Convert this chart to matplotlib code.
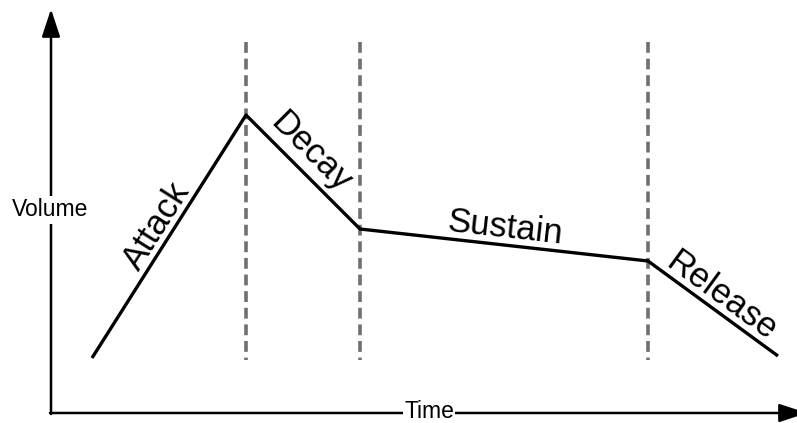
import numpy as np
import matplotlib
matplotlib.use('Agg')
import matplotlib.pyplot as plt

# Cac moc thoi gian va muc am luong cua duong bao ADSR (don vi: pixel cua hinh)
thoi_gian = [92, 246, 360, 648, 778]
am_luong = [358, 115, 229, 261, 356]
moc_chia = [246, 360, 648]
ten_pha = ['Attack', 'Decay', 'Sustain', 'Release']

plt.rcParams['font.family'] = ['Liberation Sans', 'DejaVu Sans']

fig = plt.figure(figsize=(7.97, 4.23), dpi=100)
ax = fig.add_axes([0, 0, 1, 1])
ax.set_xlim(0, 797)
ax.set_ylim(423, 0)
ax.axis('off')

# duong chia pha (net dut mau xam)
for x in moc_chia:
    ax.plot([x, x], [42, 360], color='#707070', lw=2.6, ls=(0, (3, 1.6)), zorder=1)

# duong bao
ax.plot(thoi_gian, am_luong, color='black', lw=2.4, solid_capstyle='butt', zorder=2)

# truc toa do co mui ten
kieu = dict(arrowstyle='-|>,head_length=0.85,head_width=0.28',
            lw=1.8, color='black', mutation_scale=20, shrinkA=0, shrinkB=0)
ax.annotate('', xy=(807, 413), xytext=(50, 413), arrowprops=kieu, annotation_clip=False)
ax.annotate('', xy=(51, 9), xytext=(51, 414), arrowprops=kieu, annotation_clip=False)

ax.text(429, 412, 'Time', fontsize=16.5, ha='center', va='center', zorder=5,
        bbox=dict(facecolor='white', edgecolor='none', pad=1))
ax.text(50, 210, 'Volume', fontsize=16.5, ha='center', va='center', zorder=5,
        bbox=dict(facecolor='white', edgecolor='none', pad=2))

# nhan cac pha, xoay theo doc cua doan thang
vi_tri = [(157, 226), (311, 152), (505, 228), (721, 296)]
for i, ten in enumerate(ten_pha):
    dx = thoi_gian[i + 1] - thoi_gian[i]
    dy = am_luong[i + 1] - am_luong[i]
    goc = -np.degrees(np.arctan2(dy, dx))
    ax.text(vi_tri[i][0], vi_tri[i][1], ten, fontsize=25, rotation=goc,
            rotation_mode='anchor', ha='center', va='center')

fig.savefig('out.png', dpi=100, facecolor='white')
